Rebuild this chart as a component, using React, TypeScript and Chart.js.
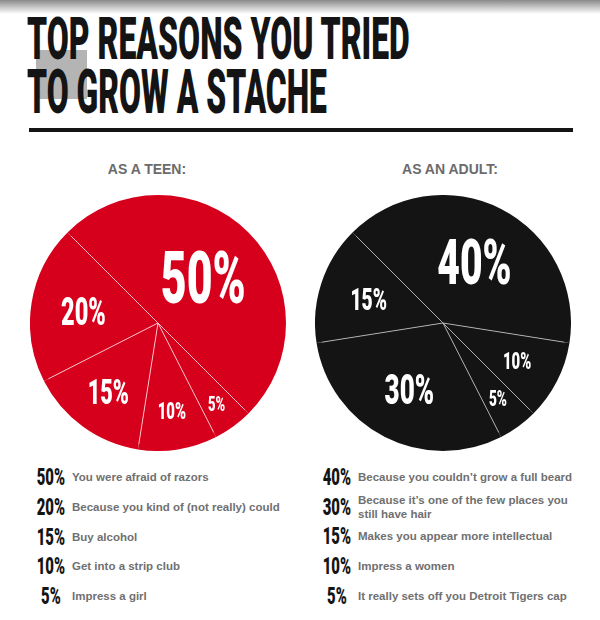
import { useEffect, useLayoutEffect, useRef } from "react";
import { Chart, registerables } from "chart.js";

Chart.register(...registerables);

// legend order (largest first)
const teenReasons = [
  "You were afraid of razors",
  "Because you kind of (not really) could",
  "Buy alcohol",
  "Get into a strip club",
  "Impress a girl",
];
const teenValues = [50, 20, 15, 10, 5];
// clockwise order of the slices in the pie (index into the arrays above)
const teenPieOrder = [0, 4, 3, 2, 1];

const adultReasons = [
  "Because you couldn’t grow a full beard",
  "Because it’s one of the few places you\nstill have hair",
  "Makes you appear more intellectual",
  "Impress a women",
  "It really sets off you Detroit Tigers cap",
];
const adultValues = [40, 30, 15, 10, 5];
const adultPieOrder = [0, 3, 4, 1, 2];

const titleLines = ["TOP REASONS YOU TRIED", "TO GROW A STACHE"];
const teenHeading = "AS A TEEN:";
const adultHeading = "AS AN ADULT:";

const COND = "Roboto, 'Liberation Sans', sans-serif";
const COND_WEIGHT = 900;
const SX = 0.62; // horizontal squeeze for the condensed look

interface LabelStyle {
  size: number; // font size per slice (pie order)
  radial: number; // distance of label from centre, fraction of radius
}

const teenLabelStyle: LabelStyle[] = [
  { size: 72, radial: 0.5 },
  { size: 21, radial: 0.78 },
  { size: 24, radial: 0.69 },
  { size: 35, radial: 0.66 },
  { size: 38, radial: 0.59 },
];
const adultLabelStyle: LabelStyle[] = [
  { size: 63, radial: 0.54 },
  { size: 24, radial: 0.65 },
  { size: 22, radial: 0.73 },
  { size: 42, radial: 0.58 },
  { size: 31, radial: 0.61 },
];

function makeDecor(lineColor: string, styles: LabelStyle[]) {
  return {
    id: "pieDecor",
    afterDatasetsDraw(chart: Chart) {
      const ctx = chart.ctx;
      const meta = chart.getDatasetMeta(0);
      const values = chart.data.datasets[0].data as number[];
      ctx.save();
      // thin separators, not reaching the rim
      meta.data.forEach((el: any) => {
        const { x, y, startAngle, outerRadius } = el.getProps(["x", "y", "startAngle", "outerRadius"], true);
        ctx.strokeStyle = lineColor;
        ctx.lineWidth = 1;
        ctx.beginPath();
        ctx.moveTo(x, y);
        ctx.lineTo(x + Math.cos(startAngle) * outerRadius * 0.96, y + Math.sin(startAngle) * outerRadius * 0.96);
        ctx.stroke();
      });
      meta.data.forEach((el: any, i: number) => {
        const { x, y, startAngle, endAngle, outerRadius } = el.getProps(
          ["x", "y", "startAngle", "endAngle", "outerRadius"],
          true
        );
        const st = styles[i];
        const mid = (startAngle + endAngle) / 2;
        const r = outerRadius * st.radial;
        const lx = x + Math.cos(mid) * r;
        const ly = y + Math.sin(mid) * r;
        ctx.save();
        ctx.translate(lx, ly + st.size * 0.355);
        ctx.scale(SX, 1);
        ctx.font = `${COND_WEIGHT} ${st.size}px ${COND}`;
        ctx.textAlign = "center";
        ctx.textBaseline = "alphabetic";
        ctx.fillStyle = "#ffffff";
        ctx.fillText(`${values[i]}%`, 0, 0);
        ctx.restore();
      });
      ctx.restore();
    },
  };
}

function Pie({ values, order, color, lineColor, styles, left, top }: {
  values: number[];
  order: number[];
  color: string;
  lineColor: string;
  styles: LabelStyle[];
  left: number;
  top: number;
}) {
  const canvasRef = useRef<HTMLCanvasElement>(null);
  const chartRef = useRef<Chart | null>(null);

  useEffect(() => {
    if (!canvasRef.current) return;
    if (chartRef.current) chartRef.current.destroy();

    const data = order.map((k) => values[k]);

    chartRef.current = new Chart(canvasRef.current, {
      type: "pie",
      data: {
        labels: data.map((v) => `${v}%`),
        datasets: [{
          data,
          backgroundColor: color,
          borderWidth: 0,
        }],
      },
      options: {
        responsive: false,
        animation: false,
        events: [],
        rotation: -45,
        layout: { padding: 0 },
        plugins: {
          legend: { display: false },
          tooltip: { enabled: false },
        },
      },
      plugins: [makeDecor(lineColor, styles)],
    });

    return () => {
      if (chartRef.current) {
        chartRef.current.destroy();
        chartRef.current = null;
      }
    };
  }, [values, order, color, lineColor, styles]);

  return (
    <canvas
      ref={canvasRef}
      width={256}
      height={256}
      style={{ position: "absolute", left, top, width: 256, height: 256 }}
    />
  );
}

// squeezes a line of the title to a given width
function FitLine({ text, left, top, width, size }: { text: string; left: number; top: number; width: number; size: number }) {
  const ref = useRef<HTMLSpanElement>(null);
  useLayoutEffect(() => {
    const el = ref.current;
    if (!el) return;
    el.style.transform = "none";
    const w = el.offsetWidth;
    el.style.transform = `scaleX(${width / w})`;
  }, [text, width]);
  return (
    <span
      ref={ref}
      style={{
        position: "absolute", left, top, fontFamily: COND, fontWeight: COND_WEIGHT, fontSize: size,
        lineHeight: 1, whiteSpace: "nowrap", transformOrigin: "0 0", color: "#141414",
      }}
    >
      {text}
    </span>
  );
}

function Legend({ values, reasons, pctX, textX, rows }: {
  values: number[];
  reasons: string[];
  pctX: number;
  textX: number;
  rows: number[];
}) {
  return (
    <>
      {values.map((v, i) => (
        <div
          key={i}
          style={{ position: "absolute", left: pctX - 25, top: rows[i] - 15, height: 30, display: "flex", alignItems: "center" }}
        >
          <div style={{ width: 50, textAlign: "center" }}>
            <span
              style={{
                display: "inline-block", fontFamily: COND, fontWeight: COND_WEIGHT, fontSize: 24, lineHeight: 1,
                color: "#141414", transform: `scaleX(${SX})`,
              }}
            >
              {v}%
            </span>
          </div>
          <div
            style={{
              position: "absolute", left: textX - pctX + 25, whiteSpace: "pre", fontFamily: "'Liberation Sans', Arial, sans-serif",
              fontWeight: 700, fontSize: 11.5, lineHeight: "14px", color: "#707070",
            }}
          >
            {reasons[i]}
          </div>
        </div>
      ))}
    </>
  );
}

export default function App() {
  return (
    <div style={{ position: "absolute", left: 0, top: 0, width: 600, height: 620, background: "#fff", overflow: "hidden" }}>
      <div style={{ position: "absolute", left: 0, top: 0, width: 600, height: 14, background: "linear-gradient(#8a8a8a, #ffffff)" }} />
      <div style={{ position: "absolute", left: 36, top: 50, width: 51, height: 49, background: "#b4b4b4" }} />
      <FitLine text={titleLines[0]} left={27} top={9} width={383} size={60} />
      <FitLine text={titleLines[1]} left={27} top={61} width={300} size={62} />
      <div style={{ position: "absolute", left: 29, top: 128, width: 544, height: 4, background: "#141414" }} />

      <div style={{ position: "absolute", left: 47, width: 200, top: 161, textAlign: "center", fontFamily: "'Liberation Sans', Arial, sans-serif", fontWeight: 700, fontSize: 14, color: "#6b6b6b" }}>
        {teenHeading}
      </div>
      <div style={{ position: "absolute", left: 350, width: 200, top: 161, textAlign: "center", fontFamily: "'Liberation Sans', Arial, sans-serif", fontWeight: 700, fontSize: 14, color: "#6b6b6b" }}>
        {adultHeading}
      </div>

      <Pie values={teenValues} order={teenPieOrder} color="#d6001c" lineColor="rgba(255,215,215,0.85)" styles={teenLabelStyle} left={30} top={195} />
      <Pie values={adultValues} order={adultPieOrder} color="#141414" lineColor="rgba(190,190,190,0.85)" styles={adultLabelStyle} left={315} top={195} />

      <Legend values={teenValues} reasons={teenReasons} pctX={51} textX={72} rows={[477, 507, 537, 566, 596]} />
      <Legend values={adultValues} reasons={adultReasons} pctX={337} textX={358} rows={[477, 507, 536, 566, 596]} />
    </div>
  );
}
